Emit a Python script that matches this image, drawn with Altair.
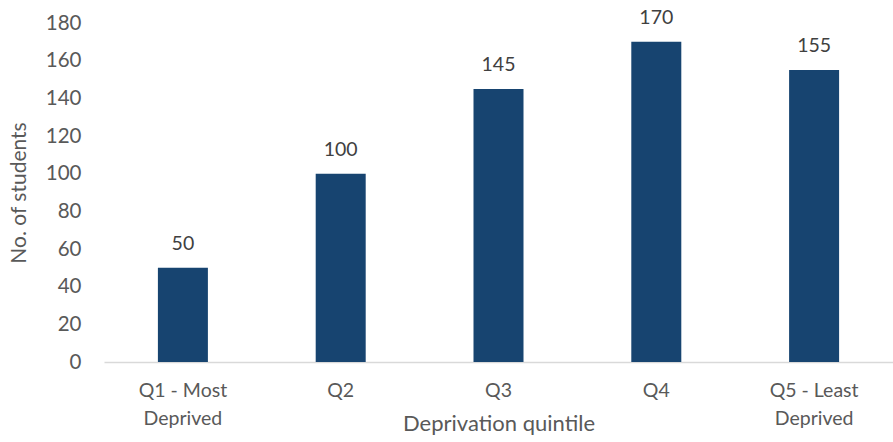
import altair as alt
import pandas as pd

quintiles = ["Q1 - Most Deprived", "Q2", "Q3", "Q4", "Q5 - Least Deprived"]
students = [50, 100, 145, 170, 155]

df = pd.DataFrame({"quintile": quintiles, "students": students})

FONT = "Lato"
BAR = "#174470"
TXT = "#595959"

base = alt.Chart(df).encode(
    x=alt.X(
        "quintile:N",
        sort=quintiles,
        title="Deprivation quintile",
        scale=alt.Scale(paddingInner=0.0, paddingOuter=0.0),
        axis=alt.Axis(
            labelAngle=0,
            labelExpr="indexof(datum.label, ' Deprived') > 0 ? [replace(datum.label, ' Deprived', ''), 'Deprived'] : datum.label",
            labelFont=FONT,
            labelFontSize=19.5,
            labelColor=TXT,
            labelLineHeight=28,
            labelPadding=19,
            ticks=False,
            domainColor="#d9d9d9",
            domainWidth=1.5,
            titleFont=FONT,
            titleFontSize=22,
            titleFontWeight="normal",
            titleColor=TXT,
            titlePadding=-14,
        ),
    ),
    y=alt.Y(
        "students:Q",
        title="No. of students",
        scale=alt.Scale(domain=[0, 180], nice=False),
        axis=alt.Axis(
            values=list(range(0, 181, 20)),
            grid=False,
            domain=False,
            ticks=False,
            labelFont=FONT,
            labelFontSize=20.5,
            labelColor=TXT,
            labelPadding=23,
            titleFont=FONT,
            titleFontSize=21,
            titleFontWeight="normal",
            titleColor=TXT,
            titlePadding=16,
        ),
    ),
)

bars = base.mark_bar(color=BAR, size=50)
labels = base.mark_text(
    dy=-14, baseline="bottom", font=FONT, fontSize=19.5, color="#404040"
).encode(text="students:Q")

chart = (
    (bars + labels)
    .properties(
        width=789,
        height=339,
        padding={"left": 104, "top": 23, "right": 0, "bottom": 80},
        autosize=alt.AutoSizeParams(type="none"),
    )
    .configure_view(stroke=None)
)

chart.save("out.html", embed_options={"renderer": "svg", "actions": False})
